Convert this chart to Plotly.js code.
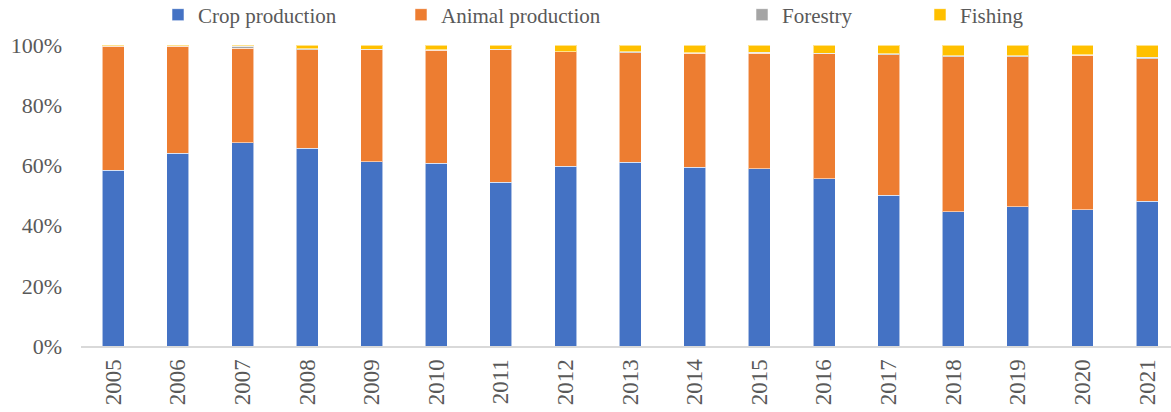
<!DOCTYPE html>
<html>
<head>
<meta charset="utf-8">
<script src="https://cdn.plot.ly/plotly-3.0.1.min.js"></script>
<style>html,body{margin:0;padding:0;background:#fff;}#chart{width:1171px;height:412px;}</style>
</head>
<body>
<div id="chart"></div>
<script>
const years = ["2005","2006","2007","2008","2009","2010","2011","2012","2013","2014","2015","2016","2017","2018","2019","2020","2021"];
const cropProduction   = [58.4, 64.0, 67.6, 65.7, 61.2, 60.7, 54.4, 59.7, 61.0, 59.4, 58.9, 55.6, 50.1, 44.6, 46.3, 45.2, 48.1];
const animalProduction = [41.2, 35.6, 31.4, 32.7, 37.2, 37.6, 44.1, 38.0, 36.4, 37.8, 38.3, 41.5, 46.7, 51.5, 49.8, 51.4, 47.4];
const forestry         = [0.1, 0.1, 0.6, 0.3, 0.2, 0.2, 0.1, 0.1, 0.3, 0.2, 0.4, 0.2, 0.3, 0.3, 0.3, 0.1, 0.5];
const fishing          = [0.3, 0.3, 0.4, 1.3, 1.4, 1.5, 1.4, 2.2, 2.3, 2.6, 2.4, 2.7, 2.9, 3.6, 3.6, 3.3, 4.0];
const seriesNames = ["Crop production", "Animal production", "Forestry", "Fishing"];
const seriesColors = ["#4472C4", "#ED7D31", "#A5A5A5", "#FFC000"];
const seriesValues = [cropProduction, animalProduction, forestry, fishing];
const legendWidths = [198, 296, 133, 80];

const FONT = "'Liberation Serif', 'Times New Roman', serif";

const traces = seriesValues.map((vals, i) => ({
  type: "bar",
  x: years,
  y: vals,
  name: seriesNames[i],
  legendwidth: legendWidths[i],
  marker: {color: seriesColors[i], line: {color: "rgba(255,255,255,0.55)", width: 1}},
  hoverinfo: "x+y+name"
}));

const layout = {
  width: 1171,
  height: 412,
  margin: {l: 81, r: 0, t: 45, b: 66},
  paper_bgcolor: "#ffffff",
  plot_bgcolor: "#ffffff",
  barmode: "stack",
  bargap: 0.66,
  font: {family: FONT, color: "#595959", size: 22},
  showlegend: true,
  legend: {
    orientation: "h",
    xref: "container",
    yref: "container",
    x: 158 / 1171, xanchor: "left",
    y: 1 - 15 / 412, yanchor: "middle",
    font: {family: FONT, size: 21, color: "#595959"},
    traceorder: "normal",
    itemwidth: 30
  },
  xaxis: {
    type: "category",
    range: [-0.5, 16.37],
    tickangle: -90,
    tickfont: {family: FONT, size: 23, color: "#595959"},
    showline: true,
    linecolor: "#D9D9D9",
    linewidth: 2,
    ticks: "",
    showgrid: false,
    zeroline: false,
    ticklabelstandoff: 2
  },
  yaxis: {
    range: [0, 100],
    tickvals: [0, 20, 40, 60, 80, 100],
    ticktext: ["0%", "20%", "40%", "60%", "80%", "100%"],
    tickfont: {family: FONT, size: 22, color: "#595959"},
    showgrid: false,
    zeroline: false,
    showline: false,
    ticks: "",
    ticklabelstandoff: 18
  }
};

Plotly.newPlot("chart", traces, layout, {staticPlot: true, displayModeBar: false});
</script>
</body>
</html>
